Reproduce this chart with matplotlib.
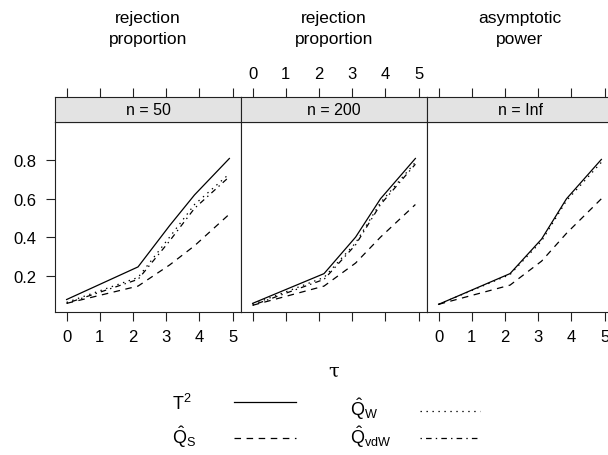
import numpy as np
import matplotlib
matplotlib.use("Agg")
import matplotlib.pyplot as plt
from matplotlib.lines import Line2D

plt.rcParams['font.family'] = ['Liberation Sans', 'DejaVu Sans']
plt.rcParams['mathtext.fontset'] = 'custom'
plt.rcParams['mathtext.rm'] = 'Liberation Sans'
plt.rcParams['mathtext.it'] = 'Liberation Sans:italic'
plt.rcParams['mathtext.bf'] = 'Liberation Sans:bold'
plt.rcParams['lines.scale_dashes'] = False

# ---- data -------------------------------------------------------------
tau = [0.0, 2.15, 3.1, 3.85, 4.9]

panel_titles = ["rejection\nproportion", "rejection\nproportion", "asymptotic\npower"]
strip_labels = ["n = 50", "n = 200", "n = Inf"]

t2_n50 = [0.075, 0.245, 0.46, 0.62, 0.81]
qs_n50 = [0.055, 0.145, 0.255, 0.355, 0.52]
qw_n50 = [0.06, 0.19, 0.40, 0.57, 0.73]
qvdw_n50 = [0.055, 0.18, 0.38, 0.55, 0.715]

t2_n200 = [0.055, 0.21, 0.40, 0.60, 0.81]
qs_n200 = [0.045, 0.145, 0.265, 0.40, 0.57]
qw_n200 = [0.05, 0.19, 0.37, 0.58, 0.79]
qvdw_n200 = [0.045, 0.18, 0.36, 0.57, 0.78]

t2_inf = [0.05, 0.21, 0.39, 0.60, 0.805]
qs_inf = [0.05, 0.15, 0.275, 0.42, 0.60]
qw_inf = [0.05, 0.205, 0.38, 0.59, 0.79]
qvdw_inf = [np.nan] * 5

series_by_panel = [
    [t2_n50, qs_n50, qw_n50, qvdw_n50],
    [t2_n200, qs_n200, qw_n200, qvdw_n200],
    [t2_inf, qs_inf, qw_inf, qvdw_inf],
]

x_ticks = [0, 1, 2, 3, 4, 5]
y_ticks = [0.2, 0.4, 0.6, 0.8]

# ---- styles -----------------------------------------------------------
styles = [
    dict(linestyle='-'),
    dict(linestyle=(0, (4.7, 4.0))),
    dict(linestyle=(0, (1.0, 3.3))),
    dict(linestyle=(0, (1.0, 3.0, 4.0, 3.0))),
]
legend_labels = [r'$\mathrm{T}^2$', r'$\hat{\mathrm{Q}}_{\mathrm{S}}$',
                 r'$\hat{\mathrm{Q}}_{\mathrm{W}}$', r'$\hat{\mathrm{Q}}_{\mathrm{vdW}}$']

W, H = 608, 456
fig = plt.figure(figsize=(W / 100, H / 100), dpi=100)


def rect(x0, y0, x1, y1):
    return [x0 / W, 1 - y1 / H, (x1 - x0) / W, (y1 - y0) / H]


panel_left = [55, 241, 427]
panel_w = 186
strip_top, strip_bot, plot_bot = 98, 123, 313
xlim = (-0.35, 5.25)
ylim = (0.01, 1.0)
tick_len = 6.5
tick_fs = 12
edge = '#222222'

for i, x0 in enumerate(panel_left):
    ax = fig.add_axes(rect(x0, strip_bot, x0 + panel_w, plot_bot))
    for vals, st in zip(series_by_panel[i], styles):
        ax.plot(tau, vals, color='black', lw=0.9, **st)
    ax.set_xlim(*xlim)
    ax.set_ylim(*ylim)
    ax.set_xticks(x_ticks)
    ax.set_yticks(y_ticks)
    ax.tick_params(axis='x', direction='out', length=tick_len, width=0.8,
                   color=edge, labelsize=tick_fs, pad=6,
                   labelbottom=(i != 1))
    ax.set_xticklabels([str(t) for t in x_ticks])
    ax.tick_params(axis='y', direction='out', length=tick_len, width=0.8,
                   color=edge, labelsize=tick_fs, pad=7,
                   left=(i == 0), labelleft=(i == 0),
                   right=(i == 2), labelright=False)
    ax.set_yticklabels([f"{v:.1f}" for v in y_ticks])
    for sp in ax.spines.values():
        sp.set_color(edge)
        sp.set_linewidth(0.8)

    sax = fig.add_axes(rect(x0, strip_top, x0 + panel_w, strip_bot))
    sax.set_facecolor('#e3e3e3')
    sax.set_xlim(*xlim)
    sax.set_ylim(0, 1)
    sax.set_yticks([])
    sax.set_xticks(x_ticks)
    sax.xaxis.set_ticks_position('top')
    sax.tick_params(axis='x', direction='out', length=tick_len, width=0.8,
                    color=edge, labelsize=tick_fs, pad=5,
                    labeltop=(i == 1), labelbottom=False, bottom=False)
    sax.set_xticklabels([str(t) for t in x_ticks])
    for sp in sax.spines.values():
        sp.set_color(edge)
        sp.set_linewidth(0.8)
    sax.text(0.5, 0.5, strip_labels[i], transform=sax.transAxes,
             ha='center', va='center', fontsize=11.5)

    fig.text((x0 + panel_w / 2) / W, 1 - 29 / H, panel_titles[i],
             ha='center', va='center', fontsize=12.5, linespacing=1.45)

# axis label
fig.text(334 / W, 1 - 372 / H, '\u03c4', family='DejaVu Serif',
         ha='center', va='center', fontsize=14)

# key
key_rows = [
    (0, 172, 404, 234, 296, 403),
    (1, 172, 437, 234, 296, 439),
    (2, 350, 409, 420, 480, 412),
    (3, 350, 437, 420, 480, 439),
]
for k, tx, ty, lx0, lx1, ly in key_rows:
    fig.text(tx / W, 1 - ty / H, legend_labels[k], ha='left', va='center',
             fontsize=13)
    fig.add_artist(Line2D([lx0 / W, lx1 / W], [1 - ly / H, 1 - ly / H],
                          transform=fig.transFigure, color='black', lw=0.9,
                          **styles[k]))

fig.savefig('out.png', dpi=100)
